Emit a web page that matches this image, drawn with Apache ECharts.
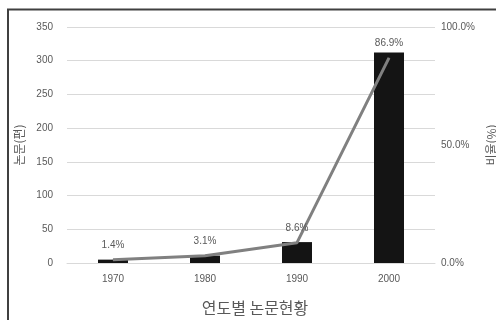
<!DOCTYPE html>
<html>
<head>
<meta charset="utf-8">
<script src="https://cdn.jsdelivr.net/npm/echarts@6/dist/echarts.min.js"></script>
<style>
  html, body { margin: 0; padding: 0; background: #fff; }
  #chart { width: 496px; height: 320px; }
</style>
</head>
<body>
<div id="chart"></div>
<script>
const years = ["1970", "1980", "1990", "2000"];
const paperCounts = [5, 11, 31, 312];
const ratios = [1.4, 3.1, 8.6, 86.9];
const countTicks = { min: 0, max: 350, interval: 50 };
const ratioTicks = { min: 0, max: 100, interval: 50 };

const chart = echarts.init(document.getElementById("chart"));
const font = "'Liberation Sans', 'Noto Sans CJK KR', sans-serif";
const krFont = "'Noto Sans CJK KR', sans-serif";
const textGray = "#595959";

const option = {
  animation: false,
  textStyle: { fontFamily: font },
  title: {
    text: "연도별 논문현황",
    left: 250,
    textAlign: "center",
    top: 295,
    textStyle: { fontSize: 16, fontWeight: "normal", color: textGray, fontFamily: krFont },
  },
  graphic: [
    {
      type: "rect",
      shape: { x: 8, y: 9.5, width: 600, height: 400 },
      style: { fill: "none", stroke: "#404040", lineWidth: 2 },
      silent: true,
    },
  ],
  grid: { left: 67, right: 61, top: 27, bottom: 57, outerBoundsMode: "none" },
  xAxis: {
    type: "category",
    data: years,
    axisTick: { show: false },
    axisLine: { lineStyle: { color: "#d9d9d9" } },
    axisLabel: { color: textGray, fontSize: 10, margin: 11 },
  },
  yAxis: [
    {
      type: "value",
      min: countTicks.min,
      max: countTicks.max,
      interval: countTicks.interval,
      name: "논문(편)",
      nameLocation: "middle",
      nameRotate: 90,
      nameGap: 35,
      nameTextStyle: { color: textGray, fontSize: 12, fontFamily: krFont },
      axisLabel: { color: textGray, fontSize: 10, margin: 14 },
      splitLine: { lineStyle: { color: "#d9d9d9" } },
      axisLine: { show: false },
      axisTick: { show: false },
    },
    {
      type: "value",
      min: ratioTicks.min,
      max: ratioTicks.max,
      interval: ratioTicks.interval,
      name: "비율(%)",
      nameLocation: "middle",
      nameRotate: 90,
      nameGap: 47,
      nameTextStyle: { color: textGray, fontSize: 12, fontFamily: krFont },
      axisLabel: {
        color: textGray,
        fontSize: 10,
        margin: 6,
        formatter: (v) => v.toFixed(1) + "%",
      },
      splitLine: { show: false },
      axisLine: { show: false },
      axisTick: { show: false },
    },
  ],
  series: [
    {
      name: "논문",
      type: "bar",
      data: paperCounts,
      barWidth: 30,
      itemStyle: { color: "#141414" },
    },
    {
      name: "비율",
      type: "line",
      yAxisIndex: 1,
      data: ratios,
      symbol: "circle",
      symbolSize: 1,
      showSymbol: true,
      itemStyle: { color: "#808080" },
      lineStyle: { color: "#808080", width: 3 },
      label: {
        show: true,
        position: "top",
        distance: 9,
        color: textGray,
        fontSize: 10,
        formatter: (p) => p.value.toFixed(1) + "%",
      },
    },
  ],
};
chart.setOption(option);
</script>
</body>
</html>
